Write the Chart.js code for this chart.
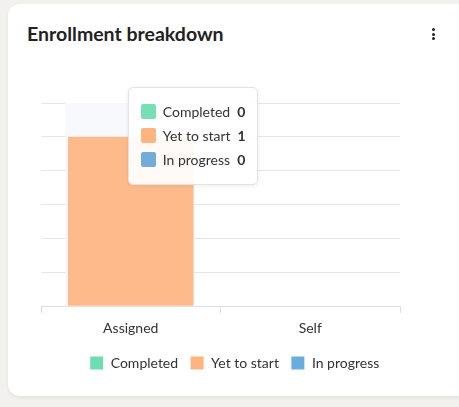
<!DOCTYPE html>
<html>
<head>
<meta charset="utf-8">
<script src="https://cdn.jsdelivr.net/npm/chart.js@4"></script>
<style>
  html, body { margin: 0; padding: 0; }
  body { width: 459px; height: 407px; background: #f2f1ee; position: relative; overflow: hidden; font-family: Lato, "Open Sans", sans-serif; }
  .card { position: absolute; left: 8px; top: 4px; width: 470px; height: 392px; background: #fff; border-radius: 12px; box-shadow: 0 2px 4px rgba(0,0,0,0.06); }
  .title { position: absolute; left: 27px; top: 22px; font-size: 19.5px; font-weight: 700; color: #222; }
  .kebab { position: absolute; left: 432px; top: 28px; width: 3px; }
  .kebab span { display: block; width: 3px; height: 3px; border-radius: 50%; background: #222; margin-bottom: 1.5px; }
  #wrap { position: absolute; left: 0; top: 60px; width: 459px; height: 340px; }
  #tip { position: absolute; background: rgba(255,255,255,0.92); border: 1px solid #e3e3e3; border-radius: 5px; box-shadow: 0 1px 4px rgba(0,0,0,0.08); padding: 11px 11px 13px 12px; font-size: 14px; color: #333; pointer-events: none; display: none; }
  #tip .row { display: flex; align-items: center; height: 24px; white-space: nowrap; }
  #tip .sw { width: 15px; height: 15px; border-radius: 2px; margin-right: 7px; }
  #tip b { margin-left: 7px; font-weight: 700; }
</style>
</head>
<body>
<div class="card"></div>
<div class="title">Enrollment breakdown</div>
<div class="kebab"><span></span><span></span><span></span></div>
<div id="wrap"><canvas id="chart"></canvas></div>
<div id="tip"></div>
<script>
// データ
const categories = ['Assigned', 'Self'];
const seriesNames = ['Completed', 'Yet to start', 'In progress'];
const completed = [0, 0];
const yetToStart = [1, 0];
const inProgress = [0, 0];

// 色
const solidColors = ['#6fdcb1', '#ffb37f', '#68ade0'];
const barColors = ['rgba(111,220,177,0.9)', 'rgba(255,179,127,0.9)', 'rgba(104,173,224,0.9)'];
const tipColors = ['#77dfb5', '#ffb480', '#74acd9'];

// ホバー中のカテゴリを薄くハイライト
const hoverBand = {
  id: 'hoverBand',
  beforeDatasetsDraw(chart) {
    const bar = chart.getDatasetMeta(1).data[0];
    if (!bar) return;
    const { ctx, chartArea } = chart;
    const w = bar.width;
    ctx.save();
    ctx.fillStyle = '#f7f9fc';
    ctx.fillRect(bar.x - w / 2 - 3, chartArea.top, w + 4, chartArea.bottom - chartArea.top);
    ctx.restore();
  }
};

// 凡例はカード全体の中央に寄せる
const legendShift = {
  id: 'legendShift',
  afterLayout(chart) {
    const lg = chart.legend;
    if (!lg) return;
    const shift = 14;
    lg.left += shift;
    lg.right += shift;
    (lg.legendHitBoxes || []).forEach(h => { h.left += shift; });
  }
};

function externalTip(context) {
  const { chart, tooltip } = context;
  const el = document.getElementById('tip');
  if (tooltip.opacity === 0) { el.style.display = 'none'; return; }
  el.innerHTML = tooltip.dataPoints.map(dp =>
    `<div class="row"><span class="sw" style="background:${tipColors[dp.datasetIndex]}"></span>${dp.dataset.label}<b>${dp.formattedValue}</b></div>`
  ).join('');
  const box = chart.canvas.getBoundingClientRect();
  el.style.display = 'block';
  el.style.left = (box.left + tooltip.caretX - 3) + 'px';
  el.style.top = (box.top + chart.chartArea.top - 16) + 'px';
}

const ctx = document.getElementById('chart').getContext('2d');
const chart = new Chart(ctx, {
  type: 'bar',
  data: {
    labels: categories,
    datasets: [completed, yetToStart, inProgress].map((d, i) => ({
      label: seriesNames[i],
      data: d,
      backgroundColor: barColors[i],
      hoverBackgroundColor: barColors[i],
      borderWidth: 0,
      categoryPercentage: 0.7,
      barPercentage: 1
    }))
  },
  options: {
    responsive: true,
    maintainAspectRatio: false,
    animation: false,
    layout: { padding: { left: 41, right: 59, top: 43, bottom: 20 } },
    scales: {
      x: {
        stacked: true,
        offset: true,
        grid: { offset: true, drawOnChartArea: false, tickLength: 7, color: '#dedede' },
        border: { color: '#dedede' },
        ticks: { color: '#333', font: { family: 'Lato', size: 14 }, padding: 7 }
      },
      y: {
        stacked: true,
        min: 0,
        max: 1.2,
        ticks: { display: false, stepSize: 0.2 },
        grid: { drawTicks: false, color: '#e6e6e6' },
        border: { display: false }
      }
    },
    plugins: {
      legend: {
        position: 'bottom',
        labels: {
          boxWidth: 14,
          boxHeight: 14,
          padding: 12,
          color: '#333',
          font: { family: 'Lato', size: 14 },
          generateLabels: (c) => c.data.datasets.map((ds, i) => ({
            text: ds.label,
            fillStyle: solidColors[i],
            strokeStyle: '#ffffff',
            lineWidth: 1,
            datasetIndex: i,
            fontColor: '#333'
          }))
        }
      },
      tooltip: { enabled: false, external: externalTip }
    }
  },
  plugins: [hoverBand, legendShift]
});

const active = [0, 1, 2].map(i => ({ datasetIndex: i, index: 0 }));
chart.setActiveElements(active);
chart.tooltip.setActiveElements(active, { x: 0, y: 0 });
chart.update();
</script>
</body>
</html>
